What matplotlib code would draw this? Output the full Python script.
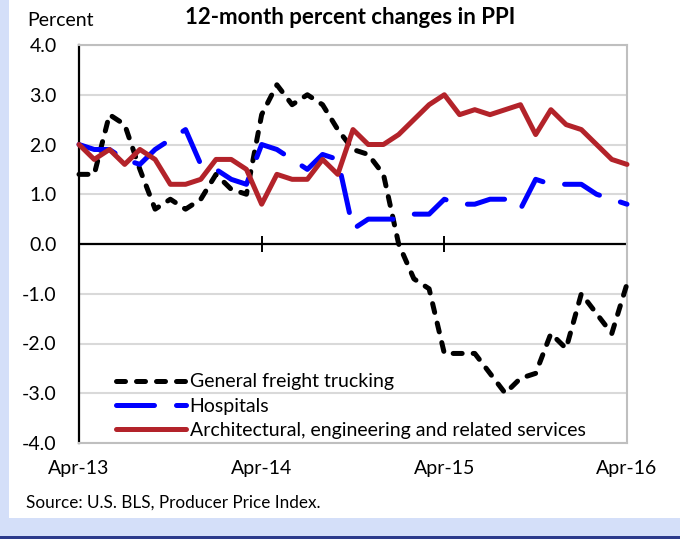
###### IMPORTS ######

import matplotlib
matplotlib.use('Agg')
import matplotlib.pyplot as plt
from matplotlib.patches import Rectangle

###### DATA ######

# monthly, Apr-13 .. Apr-16
months = list(range(37))
trucking = [1.4, 1.4, 2.6, 2.4, 1.5, 0.7, 0.9, 0.7, 0.9, 1.4, 1.1, 1.0,
            2.6, 3.2, 2.8, 3.0, 2.8, 2.3, 1.9, 1.8, 1.4, 0.0, -0.7, -0.9,
            -2.2, -2.2, -2.2, -2.6, -3.0, -2.7, -2.6, -1.8, -2.1, -1.0, -1.4, -1.8,
            -0.8]
hospitals = [2.0, 1.9, 1.9, 1.7, 1.6, 1.9, 2.1, 2.3, 1.6, 1.5, 1.3, 1.2,
             2.0, 1.9, 1.7, 1.5, 1.8, 1.7, 0.3, 0.5, 0.5, 0.5, 0.6, 0.6,
             0.9, 0.8, 0.8, 0.9, 0.9, 0.7, 1.3, 1.2, 1.2, 1.2, 1.0, 0.9,
             0.8]
architecture = [2.0, 1.7, 1.9, 1.6, 1.9, 1.7, 1.2, 1.2, 1.3, 1.7, 1.7, 1.5,
                0.8, 1.4, 1.3, 1.3, 1.7, 1.4, 2.3, 2.0, 2.0, 2.2, 2.5, 2.8,
                3.0, 2.6, 2.7, 2.6, 2.7, 2.8, 2.2, 2.7, 2.4, 2.3, 2.0, 1.7,
                1.6]

series_labels = ['General freight trucking', 'Hospitals',
                 'Architectural, engineering and related services']
x_ticks = [0, 12, 24, 36]
x_tick_labels = ['Apr-13', 'Apr-14', 'Apr-15', 'Apr-16']
y_ticks = [-4, -3, -2, -1, 0, 1, 2, 3, 4]
y_tick_labels = ['-4.0', '-3.0', '-2.0', '-1.0', '0.0', '1.0', '2.0', '3.0', '4.0']

###### STYLE ######

plt.rcParams['font.family'] = ['Lato', 'DejaVu Sans']
W, H = 680, 539
LW = 3.6
RED = '#B3232A'
BLUE = '#0000FF'
GRID = '#D9D9D9'
FRAME = '#BFBFBF'

###### FIGURE ######

fig = plt.figure(figsize=(W / 100, H / 100), dpi=100)
fig.patch.set_facecolor('#D4DFF9')
# white panel and dark strip at the bottom
fig.patches.append(Rectangle((9 / W, (H - 518) / H), 1, 1, transform=fig.transFigure,
                             facecolor='white', edgecolor='none', zorder=-2))
fig.patches.append(Rectangle((0, 0), 1, 3 / H, transform=fig.transFigure,
                             facecolor='#2B3A8C', edgecolor='none', zorder=-2))

ax = fig.add_axes([79 / W, (H - 443) / H, 548 / W, 398 / H])
ax.set_facecolor('none')

ax.plot(months, trucking, color='black', lw=LW, dashes=(1.8, 2.2),
        dash_capstyle='round', solid_joinstyle='round', label=series_labels[0],
        clip_on=False, zorder=3)
ax.plot(months, hospitals, color=BLUE, lw=LW, dashes=(7.6, 4.4),
        dash_capstyle='round', solid_joinstyle='round', label=series_labels[1],
        clip_on=False, zorder=3)
ax.plot(months, architecture, color=RED, lw=LW, solid_capstyle='round',
        solid_joinstyle='round', label=series_labels[2], clip_on=False, zorder=4)

ax.set_xlim(0, 36)
ax.set_ylim(-4, 4)

ax.set_yticks(y_ticks)
ax.set_yticklabels(y_tick_labels)
ax.tick_params(axis='y', length=0, pad=16, labelsize=14)
ax.set_xticks(x_ticks)
ax.set_xticklabels(x_tick_labels)
ax.tick_params(axis='x', length=0, pad=12, labelsize=14)

ax.yaxis.grid(True, color=GRID, lw=1.5)
ax.set_axisbelow(True)

for side in ['top', 'right', 'bottom']:
    ax.spines[side].set_color(FRAME)
    ax.spines[side].set_linewidth(1.5)
ax.spines['left'].set_color('black')
ax.spines['left'].set_linewidth(1.6)

# zero axis with its tick marks
ax.axhline(0, color='black', lw=1.6, zorder=2.5)
ax.plot(x_ticks, [0] * len(x_ticks), ls='none', marker='|', ms=12, mew=1.4,
        color='black', clip_on=False, zorder=2.5)

leg = ax.legend(loc='lower left', bbox_to_anchor=(0.06, 0.0), frameon=False,
                fontsize=14, handlelength=3.6, handletextpad=0.2,
                labelspacing=0.38, borderpad=0.2, borderaxespad=0)

###### TEXT ######

fig.text(27 / W, 1 - 20 / H, 'Percent', fontsize=14, va='center', ha='left')
fig.text(350 / W, 1 - 17 / H, '12-month percent changes in PPI', fontsize=16,
         fontweight='bold', va='center', ha='center')
fig.text(26 / W, 1 - 503 / H, 'Source: U.S. BLS, Producer Price Index.',
         fontsize=12.3, va='center', ha='left')

fig.savefig('out.png', dpi=100, facecolor=fig.get_facecolor())
